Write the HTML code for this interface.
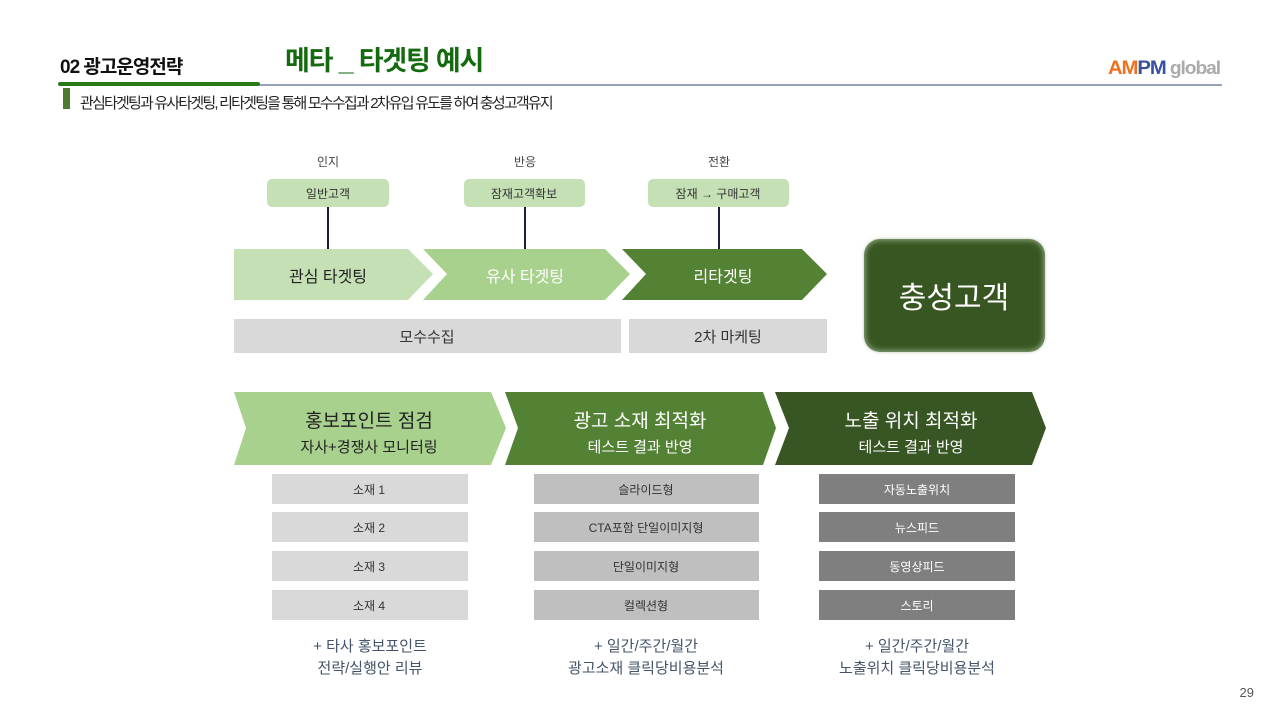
<!DOCTYPE html>
<html><head><meta charset="utf-8"><style>
body{margin:0;width:1280px;height:720px;background:#fff;overflow:hidden;font-family:"Liberation Sans","Noto Sans CJK KR",sans-serif;}
svg text{font-family:"Liberation Sans","Noto Sans CJK KR",sans-serif;}
</style></head><body>
<svg width="1280" height="720" viewBox="0 0 1280 720" xmlns="http://www.w3.org/2000/svg">
<text x="60" y="73" font-size="19" font-weight="bold" fill="#111" letter-spacing="-1">02 광고운영전략</text>
<text x="285" y="70" font-size="27" font-weight="bold" fill="#136b0e" letter-spacing="-1.2">메타 _ 타겟팅 예시</text>
<text x="1108" y="74" font-size="19" font-weight="bold" fill="#f07020" letter-spacing="-1" textLength="112" lengthAdjust="spacingAndGlyphs">AM<tspan fill="#3b4fa0">PM</tspan><tspan fill="#aaa" font-size="18"> global</tspan></text>
<line x1="60" y1="85" x2="1222" y2="85" stroke="#2f4470" stroke-width="1"/>
<rect x="58" y="82" width="202" height="4" rx="2" fill="#2a7a17"/>
<rect x="63" y="88" width="7" height="21" fill="#4e7a30"/>
<text x="80" y="108" font-size="15" fill="#222" letter-spacing="-1.8">관심타겟팅과 유사타겟팅, 리타겟팅을 통해 모수수집과 2차유입 유도를 하여 충성고객유지</text>

<g font-size="12" fill="#444" text-anchor="middle">
<text x="328" y="166">인지</text><text x="525" y="166">반응</text><text x="719" y="166">전환</text>
</g>
<rect x="267" y="179" width="122" height="28" rx="5" fill="#c5e0b4"/>
<rect x="464" y="179" width="121" height="28" rx="5" fill="#c5e0b4"/>
<rect x="648" y="179" width="141" height="28" rx="5" fill="#c5e0b4"/>
<g font-size="12" fill="#333" text-anchor="middle">
<text x="328" y="198">일반고객</text><text x="524" y="198">잠재고객확보</text><text x="718" y="198">잠재 → 구매고객</text>
</g>
<g stroke="#1a1f3a" stroke-width="2"><line x1="328" y1="207" x2="328" y2="249"/><line x1="525" y1="207" x2="525" y2="249"/><line x1="719" y1="207" x2="719" y2="249"/></g>
<polygon points="234,249 408,249 433,274 408,300 234,300" fill="#c5e0b4"/>
<polygon points="423,249 605,249 630,274 605,300 423,300 447,274" fill="#a9d18e"/>
<polygon points="622,249 802,249 827,274 802,300 622,300 646,274" fill="#548235"/>
<text x="328" y="282" font-size="16" fill="#222" text-anchor="middle">관심 타겟팅</text>
<text x="525" y="282" font-size="16" fill="#fff" text-anchor="middle">유사 타겟팅</text>
<text x="723" y="282" font-size="16" fill="#fff" text-anchor="middle">리타겟팅</text>
<rect x="234" y="319" width="387" height="34" fill="#d9d9d9"/>
<rect x="629" y="319" width="198" height="34" fill="#d9d9d9"/>
<text x="427" y="342" font-size="15" fill="#333" text-anchor="middle">모수수집</text>
<text x="728" y="342" font-size="15" fill="#333" text-anchor="middle">2차 마케팅</text>
<defs><filter id="sf" x="-20%" y="-20%" width="140%" height="140%"><feGaussianBlur stdDeviation="2.5"/></filter></defs>
<rect x="864" y="239" width="181" height="113" rx="16" fill="#7f9a70"/>
<rect x="866" y="241" width="177" height="109" rx="14" fill="#375623" filter="url(#sf)"/>
<text x="954" y="308" font-size="30" fill="#fff" text-anchor="middle">충성고객</text>

<polygon points="234,392 491,392 506,428 491,465 234,465 246,428" fill="#a9d18e"/>
<polygon points="505,392 763,392 776,428 763,465 505,465 518,428" fill="#548235"/>
<polygon points="775,392 1032,392 1046,428 1032,465 775,465 789,428" fill="#375623"/>
<g text-anchor="middle">
<text x="369" y="427" font-size="19" fill="#222">홍보포인트 점검</text>
<text x="369" y="452" font-size="15" fill="#222">자사+경쟁사 모니터링</text>
<text x="640" y="427" font-size="19" fill="#fff">광고 소재 최적화</text>
<text x="640" y="452" font-size="15" fill="#fff">테스트 결과 반영</text>
<text x="911" y="427" font-size="19" fill="#fff">노출 위치 최적화</text>
<text x="911" y="452" font-size="15" fill="#fff">테스트 결과 반영</text>
</g>
<g fill="#d9d9d9"><rect x="272" y="474" width="196" height="30"/><rect x="272" y="512" width="196" height="30"/><rect x="272" y="551" width="196" height="30"/><rect x="272" y="590" width="196" height="30"/></g>
<g fill="#bfbfbf"><rect x="534" y="474" width="225" height="30"/><rect x="534" y="512" width="225" height="30"/><rect x="534" y="551" width="225" height="30"/><rect x="534" y="590" width="225" height="30"/></g>
<g fill="#7f7f7f"><rect x="819" y="474" width="196" height="30"/><rect x="819" y="512" width="196" height="30"/><rect x="819" y="551" width="196" height="30"/><rect x="819" y="590" width="196" height="30"/></g>
<g font-size="12" text-anchor="middle" fill="#333">
<text x="369" y="494">소재 1</text><text x="369" y="532">소재 2</text><text x="369" y="571">소재 3</text><text x="369" y="610">소재 4</text>
<text x="646" y="494">슬라이드형</text><text x="646" y="532">CTA포함 단일이미지형</text><text x="646" y="571">단일이미지형</text><text x="646" y="610">컬렉션형</text>
</g>
<g font-size="12" text-anchor="middle" fill="#fff">
<text x="917" y="494">자동노출위치</text><text x="917" y="532">뉴스피드</text><text x="917" y="571">동영상피드</text><text x="917" y="610">스토리</text>
</g>
<g font-size="15" text-anchor="middle" fill="#44546a">
<text x="370" y="651">+ 타사 홍보포인트</text><text x="370" y="673">전략/실행안 리뷰</text>
<text x="646" y="651">+ 일간/주간/월간</text><text x="646" y="673">광고소재 클릭당비용분석</text>
<text x="917" y="651">+ 일간/주간/월간</text><text x="917" y="673">노출위치 클릭당비용분석</text>
</g>
<text x="1254" y="697" font-size="13" fill="#555" text-anchor="end">29</text>
</svg>
</body></html>
